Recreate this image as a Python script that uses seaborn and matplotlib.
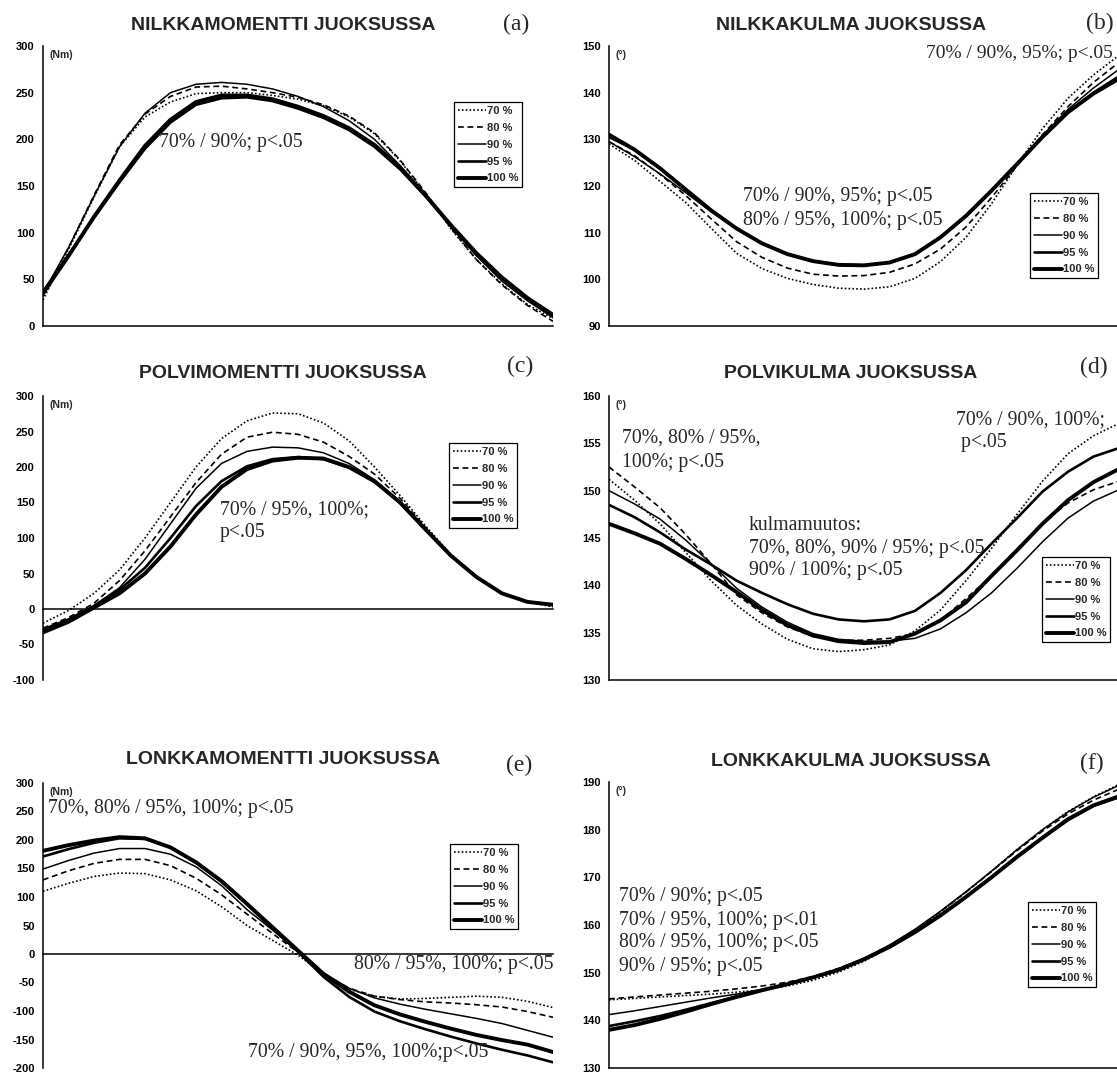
import numpy as np
import pandas as pd
import matplotlib
matplotlib.use("Agg")
import matplotlib.pyplot as plt
import seaborn as sns

# ---------------- data (x = % of the phase, 0..100 step 5) ----------------
x_pct = list(range(0, 101, 5))
speeds = ["70 %", "80 %", "90 %", "95 %", "100 %"]

# (a) NILKKAMOMENTTI (Nm)
a_70 = [28, 82, 138, 192, 224, 240, 249, 250, 250, 247, 243, 236, 224, 206, 177, 142, 104, 71, 45, 23, 8]
a_80 = [32, 84, 140, 194, 227, 246, 256, 257, 254, 250, 245, 237, 225, 207, 178, 143, 105, 71, 44, 22, 5]
a_90 = [35, 84, 139, 192, 228, 250, 259, 261, 259, 254, 246, 235, 220, 200, 172, 140, 106, 75, 48, 27, 9]
a_95 = [37, 76, 116, 154, 190, 218, 237, 244, 245, 241, 233, 223, 210, 192, 168, 139, 107, 77, 51, 29, 11]
a_100 = [35, 75, 117, 156, 193, 221, 240, 247, 247, 243, 235, 225, 212, 194, 170, 140, 108, 78, 52, 30, 12]

# (b) NILKKAKULMA (deg)
b_70 = [129, 125.5, 121, 116.5, 111, 105.6, 102.3, 100.2, 98.9, 98.1, 97.9, 98.4, 100.2, 103.8, 109, 116.2, 124.5, 132.3, 138.8, 143.8, 148]
b_80 = [129.5, 126.5, 122.5, 118, 113, 108.1, 104.7, 102.4, 101.1, 100.7, 100.8, 101.5, 103.3, 106.5, 111.2, 117.5, 124.3, 131, 137, 142.2, 146.5]
b_90 = [129.5, 126.3, 122.6, 118.6, 114.5, 110.8, 107.6, 105.3, 103.8, 103.0, 102.9, 103.5, 105.3, 108.9, 113.6, 119.1, 124.9, 130.8, 136.4, 141, 145]
b_95 = [130.5, 127.8, 123.8, 119.3, 114.8, 110.9, 107.7, 105.4, 103.9, 103.1, 103, 103.6, 105.4, 109.0, 113.6, 119.0, 124.7, 130.5, 135.8, 140, 143.5]
b_100 = [131, 127.8, 123.8, 119.3, 114.8, 110.9, 107.7, 105.4, 103.9, 103.1, 103, 103.6, 105.4, 109.0, 113.6, 119.0, 124.7, 130.5, 135.8, 139.8, 143]

# (c) POLVIMOMENTTI (Nm)
c_70 = [-20, -2, 22, 55, 100, 150, 200, 240, 265, 276, 275, 262, 237, 200, 160, 117, 77, 46, 22, 10, 3]
c_80 = [-27, -12, 8, 40, 82, 130, 178, 218, 242, 249, 246, 235, 215, 190, 156, 115, 76, 45, 22, 10, 5]
c_90 = [-28, -14, 5, 30, 70, 120, 170, 205, 222, 228, 227, 220, 205, 182, 152, 113, 75, 45, 22, 10, 6]
c_95 = [-30, -15, 4, 27, 58, 100, 145, 180, 201, 211, 214, 211, 199, 179, 150, 112, 75, 45, 22, 10, 6]
c_100 = [-33, -18, 2, 22, 50, 88, 133, 172, 197, 209, 213, 212, 200, 180, 150, 112, 75, 45, 22, 10, 6]

# (d) POLVIKULMA (deg)
d_70 = [151.2, 149.0, 146.5, 143.5, 140.5, 137.9, 135.9, 134.3, 133.3, 133.0, 133.2, 133.7, 135.2, 137.4, 140.5, 143.9, 147.5, 151.0, 153.9, 155.8, 157.1]
d_80 = [152.5, 150.4, 148.2, 145.4, 142.3, 139.0, 137.1, 135.6, 134.6, 134.2, 134.2, 134.4, 134.9, 136.3, 138.6, 141.0, 143.8, 146.6, 148.7, 150.1, 151.0]
d_90 = [150.0, 148.6, 147.0, 144.8, 142.3, 139.7, 137.7, 136.1, 134.9, 134.3, 134.1, 134.1, 134.4, 135.4, 137.1, 139.2, 141.8, 144.6, 147.1, 148.9, 150.1]
d_95 = [148.5, 147.2, 145.6, 143.8, 142.2, 140.5, 139.2, 138.0, 137.0, 136.4, 136.2, 136.4, 137.3, 139.2, 141.6, 144.4, 147.1, 149.9, 152.0, 153.6, 154.5]
d_100 = [146.5, 145.5, 144.4, 142.8, 141.1, 139.3, 137.4, 135.8, 134.7, 134.1, 133.9, 134.0, 134.9, 136.3, 138.2, 141.0, 143.7, 146.5, 149.0, 150.9, 152.3]

# (e) LONKKAMOMENTTI (Nm)
e_70 = [110, 124, 136, 142, 141, 130, 111, 83, 50, 24, -2, -35, -62, -74, -79, -78, -76, -74, -76, -83, -94]
e_80 = [130, 146, 159, 166, 166, 155, 133, 104, 70, 36, 3, -35, -60, -74, -80, -84, -86, -89, -93, -101, -111]
e_90 = [149, 164, 177, 185, 185, 175, 153, 120, 78, 42, 5, -33, -60, -77, -88, -97, -105, -113, -122, -134, -146]
e_95 = [171, 184, 195, 203, 202, 187, 160, 127, 87, 45, 4, -40, -75, -101, -118, -132, -145, -157, -168, -178, -190]
e_100 = [181, 191, 199, 205, 203, 187, 161, 128, 88, 47, 6, -35, -66, -90, -106, -119, -131, -142, -151, -159, -172]

# (f) LONKKAKULMA (deg)
f_70 = [144.3, 144.6, 144.9, 145.2, 145.5, 145.9, 146.4, 147.2, 148.4, 150.1, 152.4, 155.3, 158.8, 162.7, 166.9, 171.3, 175.8, 180.0, 183.8, 186.9, 189.5]
f_80 = [144.5, 144.9, 145.3, 145.7, 146.1, 146.6, 147.2, 148.0, 149.2, 150.9, 153.0, 155.7, 159.0, 162.8, 166.9, 171.2, 175.6, 179.7, 183.3, 186.2, 188.5]
f_90 = [141.2, 142.0, 142.9, 143.8, 144.7, 145.5, 146.5, 147.7, 149.1, 150.8, 153.0, 155.8, 159.1, 162.9, 167.0, 171.3, 175.8, 180.0, 183.7, 186.8, 189.3]
f_95 = [138.8, 139.8, 140.9, 142.2, 143.6, 145.0, 146.3, 147.6, 149.0, 150.6, 152.8, 155.4, 158.5, 162.0, 165.9, 170.0, 174.2, 178.2, 182.0, 185.0, 186.8]
f_100 = [138.0, 139.0, 140.3, 141.8, 143.4, 144.9, 146.3, 147.6, 149.0, 150.6, 152.8, 155.4, 158.5, 162.0, 165.9, 170.0, 174.3, 178.3, 182.2, 185.1, 187.0]

titles = ["NILKKAMOMENTTI JUOKSUSSA", "NILKKAKULMA JUOKSUSSA",
          "POLVIMOMENTTI JUOKSUSSA", "POLVIKULMA JUOKSUSSA",
          "LONKKAMOMENTTI JUOKSUSSA", "LONKKAKULMA JUOKSUSSA"]
tags = ["(a)", "(b)", "(c)", "(d)", "(e)", "(f)"]
units = ["(Nm)", "(°)", "(Nm)", "(°)", "(Nm)", "(°)"]
yticks_a = [0, 50, 100, 150, 200, 250, 300]
yticks_b = [90, 100, 110, 120, 130, 140, 150]
yticks_c = [-100, -50, 0, 50, 100, 150, 200, 250, 300]
yticks_d = [130, 135, 140, 145, 150, 155, 160]
yticks_e = [-200, -150, -100, -50, 0, 50, 100, 150, 200, 250, 300]
yticks_f = [130, 140, 150, 160, 170, 180, 190]

notes_a = ["70% / 90%; p<.05"]
notes_b_top = ["70% / 90%, 95%; p<.05"]
notes_b = ["70% / 90%, 95%; p<.05", "80% / 95%, 100%; p<.05"]
notes_c = ["70% / 95%, 100%;", "p<.05"]
notes_d_left = ["70%, 80% / 95%,", "100%; p<.05"]
notes_d_right = ["70% / 90%, 100%;", " p<.05"]
notes_d_mid = ["kulmamuutos:", "70%, 80%, 90% / 95%; p<.05", "90% / 100%; p<.05"]
notes_e_top = ["70%, 80% / 95%, 100%; p<.05"]
notes_e_mid = ["80% / 95%, 100%; p<.05"]
notes_e_low = ["70% / 90%, 95%, 100%;p<.05"]
notes_f = ["70% / 90%; p<.05", "70% / 95%, 100%; p<.01", "80% / 95%, 100%; p<.05", "90% / 95%; p<.05"]

# ---------------- styling ----------------
sns.set_theme(style="white")
plt.rcParams["font.family"] = ["Liberation Sans", "DejaVu Sans"]
SERIF = ["Liberation Serif", "DejaVu Serif"]

W, H = 1117, 1075
fig = plt.figure(figsize=(W / 100, H / 100), dpi=100)
fig.patch.set_facecolor("white")

def fx(px):
    return px / W

def fy(py):
    return 1 - py / H

line_styles = {
    "70 %": dict(linestyle=(0, (1.0, 1.3)), linewidth=1.2),
    "80 %": dict(linestyle=(0, (3.5, 2.2)), linewidth=1.2),
    "90 %": dict(linestyle="-", linewidth=1.1),
    "95 %": dict(linestyle="-", linewidth=1.9),
    "100 %": dict(linestyle="-", linewidth=2.8),
}

panels = [
    dict(data=[a_70, a_80, a_90, a_95, a_100], ylim=(0, 300), yt=yticks_a, left=43, top=46, bot=326, zero=False),
    dict(data=[b_70, b_80, b_90, b_95, b_100], ylim=(90, 150), yt=yticks_b, left=609, top=46, bot=326, zero=False),
    dict(data=[c_70, c_80, c_90, c_95, c_100], ylim=(-100, 300), yt=yticks_c, left=43, top=396, bot=680, zero=True),
    dict(data=[d_70, d_80, d_90, d_95, d_100], ylim=(130, 160), yt=yticks_d, left=609, top=396, bot=680, zero=False),
    dict(data=[e_70, e_80, e_90, e_95, e_100], ylim=(-200, 300), yt=yticks_e, left=43, top=783, bot=1068, zero=True),
    dict(data=[f_70, f_80, f_90, f_95, f_100], ylim=(130, 190), yt=yticks_f, left=609, top=782, bot=1068, zero=False),
]
AX_W = 510

legend_pos = [(454, 102), (1030, 193), (449, 443), (1042, 557), (450, 844), (1028, 902)]
title_pos = [(283, 25), (851, 25), (283, 373), (851, 373), (283, 760), (851, 761)]
tag_pos = [(503, 24), (1086, 23), (507, 366), (1080, 367), (506, 765), (1080, 763)]

axes = []
for i, p in enumerate(panels):
    ax = fig.add_axes([fx(p["left"]), fy(p["bot"]), fx(AX_W), (p["bot"] - p["top"]) / H])
    ax.set_facecolor("white")
    for s, vals in zip(speeds, p["data"]):
        df = pd.DataFrame({"x": x_pct, "y": vals})
        sns.lineplot(data=df, x="x", y="y", ax=ax, color="black", label=s,
                     **line_styles[s])
    ax.set_xlim(0, 100)
    ax.set_ylim(*p["ylim"])
    ax.set_xlabel("")
    ax.set_ylabel("")
    ax.set_xticks([])
    ax.set_yticks(p["yt"])
    ax.set_yticklabels([str(t) for t in p["yt"]], fontsize=8, fontweight="bold")
    ax.tick_params(axis="y", direction="inout", length=6, width=1, pad=3, colors="black")
    for side in ["top", "right"]:
        ax.spines[side].set_visible(False)
    for side in ["left", "bottom"]:
        ax.spines[side].set_color("black")
        ax.spines[side].set_linewidth(1.1)
    if p["zero"]:
        ax.spines["bottom"].set_position(("data", 0))
    ax.grid(False)
    # legend
    h, l = ax.get_legend_handles_labels()
    lx, ly = legend_pos[i]
    leg = ax.legend(h, l, loc="upper left", bbox_to_anchor=(fx(lx), fy(ly)),
                    bbox_transform=fig.transFigure, frameon=True, fancybox=False,
                    borderaxespad=0, borderpad=0.35, handlelength=2.5,
                    handletextpad=0.1, labelspacing=0.62,
                    prop=dict(family=["Liberation Sans"], weight="bold", size=8))
    leg.get_frame().set_edgecolor("black")
    leg.get_frame().set_linewidth(0.9)
    leg.get_frame().set_facecolor("white")
    leg.get_frame().set_alpha(1)
    # unit label
    ax.text(0.012, 0.985, units[i], transform=ax.transAxes, ha="left", va="top",
            fontsize=7.5, fontweight="bold")
    axes.append(ax)
    # titles and tags
    tx, ty = title_pos[i]
    fig.text(fx(tx), fy(ty), titles[i], ha="center", va="center", fontsize=14,
             fontweight="bold")
    gx, gy = tag_pos[i]
    fig.text(fx(gx), fy(gy), tags[i], ha="left", va="center", fontsize=17,
             family=SERIF)

def notes(lines, x, ys, size=14.2):
    for s, y in zip(lines, ys):
        fig.text(fx(x), fy(y), s, ha="left", va="center", fontsize=size, family=SERIF)

notes(notes_a, 159, [143])
notes(notes_b_top, 926, [54], size=14.0)
notes(notes_b, 743, [197, 220])
notes(notes_c, 220, [510, 533])
notes(notes_d_left, 622, [438, 462])
notes(notes_d_right, 956, [420, 443])
notes(notes_d_mid, 749, [525, 548, 571])
notes(notes_e_top, 48, [809])
notes(notes_e_mid, 354, [965])
notes(notes_e_low, 248, [1052])
notes(notes_f, 619, [897, 920, 943, 966])

fig.savefig("out.png", dpi=100, facecolor="white")
